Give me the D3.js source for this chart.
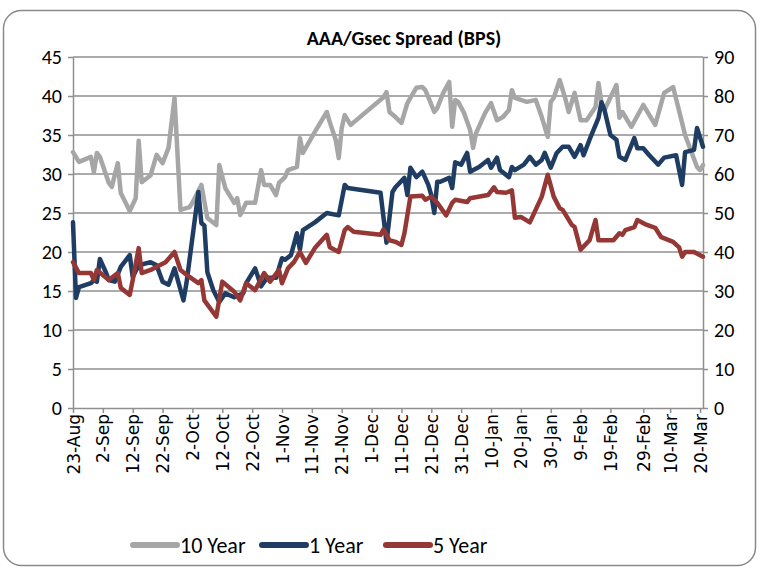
<!DOCTYPE html>
<html>
<head>
<meta charset="utf-8">
<script src="https://cdn.jsdelivr.net/npm/d3@7"></script>
<style>
  body { margin: 0; background: #fff; }
  svg { display: block; }
  .lbl { font-family: Carlito, "Liberation Sans Narrow", "Liberation Sans", sans-serif; }
</style>
</head>
<body>
<svg id="chart" width="763" height="571"></svg>
<script>
const tickLabels = ["23-Aug", "2-Sep", "12-Sep", "22-Sep", "2-Oct", "12-Oct", "22-Oct", "1-Nov", "11-Nov", "21-Nov",
  "1-Dec", "11-Dec", "21-Dec", "31-Dec", "10-Jan", "20-Jan", "30-Jan", "9-Feb", "19-Feb", "29-Feb", "10-Mar", "20-Mar"];

// 10 Year (right axis)
const tenYearDates = ["2011-08-23","2011-08-25","2011-08-29","2011-08-30","2011-08-31","2011-09-01","2011-09-04","2011-09-05",
  "2011-09-07","2011-09-08","2011-09-11","2011-09-13","2011-09-14","2011-09-15","2011-09-18","2011-09-20","2011-09-22",
  "2011-09-24","2011-09-26","2011-09-28","2011-10-01","2011-10-02","2011-10-05","2011-10-07","2011-10-10","2011-10-11",
  "2011-10-13","2011-10-16","2011-10-17","2011-10-18","2011-10-20","2011-10-23","2011-10-25","2011-10-26","2011-10-28",
  "2011-10-30","2011-10-31","2011-11-02","2011-11-03","2011-11-06","2011-11-07","2011-11-08","2011-11-12","2011-11-16",
  "2011-11-17","2011-11-19","2011-11-20","2011-11-21","2011-11-22","2011-11-24","2011-12-05","2011-12-06","2011-12-07",
  "2011-12-09","2011-12-11","2011-12-13","2011-12-14","2011-12-16","2011-12-18","2011-12-19","2011-12-20","2011-12-22",
  "2011-12-23","2011-12-25","2011-12-27","2011-12-28","2011-12-29","2011-12-30","2012-01-01","2012-01-03","2012-01-04",
  "2012-01-05","2012-01-08","2012-01-10","2012-01-12","2012-01-14","2012-01-16","2012-01-17","2012-01-18","2012-01-20",
  "2012-01-22","2012-01-25","2012-01-27","2012-01-29","2012-01-30","2012-01-31","2012-02-02","2012-02-04","2012-02-05",
  "2012-02-07","2012-02-09","2012-02-11","2012-02-14","2012-02-15","2012-02-16","2012-02-17","2012-02-21","2012-02-22",
  "2012-02-23","2012-02-26","2012-03-01","2012-03-05","2012-03-08","2012-03-11","2012-03-14","2012-03-15","2012-03-19",
  "2012-03-20","2012-03-21"];
const tenYear = [65.6,63.1,64.4,60.5,65.4,64.4,57.7,56.7,62.8,55.1,50.5,53.8,68.5,57.9,59.7,64.9,62.8,66.7,79.5,50.8,
  51.5,52.6,57.2,48.7,46.9,62.3,56.4,52.6,53.8,49.5,52.6,52.6,61.0,57.2,57.2,54.6,57.7,59.2,61.0,61.8,69.2,65.4,70.8,
  75.9,73.3,68.7,64.1,71.8,75.1,72.6,79.7,81.0,75.9,74.6,73.1,78.2,79.5,82.1,82.3,81.5,79.7,75.9,76.9,80.8,83.6,72.1,
  79.0,78.5,75.6,71.3,66.7,70.5,75.6,78.2,73.8,74.6,76.4,81.5,79.5,79.0,78.5,79.0,74.6,69.5,78.5,79.5,84.1,79.0,75.9,
  80.8,73.8,73.8,77.2,83.3,78.2,76.4,82.8,74.4,75.9,72.1,77.7,72.6,80.8,82.3,73.1,70.0,61.8,61.0,62.3];

// 1 Year (left axis)
const oneYearDates = ["2011-08-23","2011-08-24","2011-08-25","2011-08-29","2011-08-30","2011-08-31","2011-09-01","2011-09-03",
  "2011-09-04","2011-09-06","2011-09-08","2011-09-11","2011-09-12","2011-09-14","2011-09-18","2011-09-20","2011-09-22",
  "2011-09-24","2011-09-26","2011-09-29","2011-09-30","2011-10-04","2011-10-05","2011-10-06","2011-10-07","2011-10-09",
  "2011-10-11","2011-10-13","2011-10-16","2011-10-19","2011-10-20","2011-10-23","2011-10-25","2011-10-27","2011-10-30",
  "2011-11-01","2011-11-02","2011-11-04","2011-11-06","2011-11-07","2011-11-08","2011-11-12","2011-11-16","2011-11-20",
  "2011-11-22","2011-11-23","2011-12-04","2011-12-06","2011-12-08","2011-12-09","2011-12-12","2011-12-13","2011-12-14",
  "2011-12-16","2011-12-18","2011-12-20","2011-12-21","2011-12-22","2011-12-23","2011-12-24","2011-12-27","2011-12-28",
  "2011-12-29","2011-12-31","2012-01-02","2012-01-03","2012-01-06","2012-01-09","2012-01-10","2012-01-12","2012-01-13",
  "2012-01-16","2012-01-17","2012-01-18","2012-01-21","2012-01-23","2012-01-25","2012-01-27","2012-01-28","2012-01-30",
  "2012-02-01","2012-02-03","2012-02-05","2012-02-07","2012-02-09","2012-02-10","2012-02-12","2012-02-15","2012-02-16",
  "2012-02-17","2012-02-19","2012-02-21","2012-02-22","2012-02-24","2012-02-27","2012-02-28","2012-03-01","2012-03-03",
  "2012-03-06","2012-03-08","2012-03-12","2012-03-14","2012-03-15","2012-03-18","2012-03-19","2012-03-21"];
const oneYear = [23.8,14.1,15.5,16.0,16.4,16.2,19.1,17.4,16.4,16.2,18.1,19.6,16.8,18.3,18.7,18.3,16.2,15.8,17.9,13.8,
  16.0,27.7,23.7,23.4,17.4,15.1,13.6,14.7,14.2,14.7,16.0,17.9,15.6,16.7,16.7,19.2,19.0,19.6,22.4,20.3,22.8,23.8,25.0,
  24.7,28.6,28.2,27.6,21.2,27.7,28.3,29.5,27.3,30.8,29.6,30.3,28.6,27.3,25.0,29.0,29.0,29.5,28.2,31.5,31.2,32.7,30.3,
  30.9,31.8,30.8,32.1,30.5,29.6,30.9,30.5,31.2,32.2,31.2,31.8,32.7,30.8,32.7,33.5,33.5,32.2,33.7,32.4,34.4,37.2,39.2,
  38.2,35.0,34.4,32.2,31.8,34.6,33.3,33.3,32.4,31.2,32.1,32.4,28.6,32.8,33.1,35.9,33.5];

// 5 Year (left axis)
const fiveYearDates = ["2011-08-23","2011-08-25","2011-08-29","2011-08-30","2011-08-31","2011-09-04","2011-09-07","2011-09-08",
  "2011-09-11","2011-09-12","2011-09-14","2011-09-15","2011-09-18","2011-09-21","2011-09-23","2011-09-26","2011-09-28",
  "2011-10-01","2011-10-04","2011-10-05","2011-10-06","2011-10-10","2011-10-12","2011-10-16","2011-10-18","2011-10-20",
  "2011-10-23","2011-10-26","2011-10-28","2011-10-31","2011-11-01","2011-11-03","2011-11-05","2011-11-07","2011-11-09",
  "2011-11-12","2011-11-16","2011-11-17","2011-11-20","2011-11-22","2011-11-23","2011-11-25","2011-12-04","2011-12-05",
  "2011-12-07","2011-12-09","2011-12-11","2011-12-12","2011-12-14","2011-12-18","2011-12-19","2011-12-21","2011-12-23",
  "2011-12-26","2011-12-28","2011-12-29","2012-01-02","2012-01-03","2012-01-09","2012-01-11","2012-01-12","2012-01-15",
  "2012-01-17","2012-01-18","2012-01-20","2012-01-23","2012-01-27","2012-01-29","2012-01-31","2012-02-02","2012-02-03",
  "2012-02-06","2012-02-07","2012-02-09","2012-02-12","2012-02-14","2012-02-15","2012-02-20","2012-02-22","2012-02-23",
  "2012-02-24","2012-02-27","2012-02-28","2012-03-02","2012-03-05","2012-03-07","2012-03-11","2012-03-13","2012-03-14",
  "2012-03-15","2012-03-18","2012-03-21"];
const fiveYear = [18.7,17.3,17.3,16.4,17.7,16.4,17.3,15.4,14.5,16.4,20.5,17.3,17.7,18.3,18.7,20.0,17.7,16.8,16.0,16.4,
  13.8,11.7,16.2,14.9,13.8,16.0,15.1,17.3,16.2,17.7,16.0,17.9,18.7,20.0,18.6,20.5,22.2,20.6,20.0,22.8,23.2,22.6,22.2,
  22.9,21.5,21.3,20.9,22.4,27.1,27.2,26.7,27.1,26.3,24.7,26.3,26.7,26.4,26.9,27.3,28.3,27.7,27.6,27.9,24.4,24.5,23.8,
  27.1,29.9,27.1,25.6,25.4,23.5,23.2,20.3,21.5,24.1,21.5,21.5,22.4,22.2,22.8,23.2,24.1,23.5,23.1,21.9,21.3,20.6,19.4,
  20.0,20.0,19.4];

const leftTicks = d3.range(0, 46, 5);
const rightTicks = d3.range(0, 91, 10);

const svg = d3.select("#chart");
const plot = { left: 73, right: 703, top: 57, bottom: 408 };
const gridColor = "#8f8f8f";

const parse = d3.timeParse("%Y-%m-%d");
const parseTick = (s) => {
  const d = d3.timeParse("%d-%b")(s);
  d.setFullYear(d.getMonth() >= 7 ? 2011 : 2012);
  return d;
};
const tickDates = tickLabels.map(parseTick);

const x = d3.scaleTime()
  .domain([parse("2011-08-23"), parse("2012-03-21")])
  .range([plot.left, plot.right]);
const yL = d3.scaleLinear().domain([0, 45]).range([plot.bottom, plot.top]);
const yR = d3.scaleLinear().domain([0, 90]).range([plot.bottom, plot.top]);

// border
svg.append("rect")
  .attr("x", 3.5).attr("y", 10.5).attr("width", 752).attr("height", 555)
  .attr("rx", 18)
  .attr("fill", "#fff").attr("stroke", "#8a8a8a").attr("stroke-width", 1.5);

svg.append("text")
  .attr("class", "lbl")
  .attr("x", 404).attr("y", 45)
  .attr("text-anchor", "middle")
  .attr("font-size", 20).attr("font-weight", "bold")
  .text("AAA/Gsec Spread (BPS)");

// gridlines
svg.append("g")
  .selectAll("line")
  .data(leftTicks.slice(1))
  .join("line")
  .attr("x1", plot.left).attr("x2", plot.right)
  .attr("y1", (d) => yL(d)).attr("y2", (d) => yL(d))
  .attr("stroke", gridColor).attr("stroke-width", 1.5);

const styleAxis = (g) => {
  g.select(".domain").attr("stroke", gridColor).attr("stroke-width", 1.5);
  g.selectAll(".tick line").attr("stroke", gridColor).attr("stroke-width", 1.5);
  g.selectAll(".tick text").attr("fill", "#000");
};

svg.append("g")
  .attr("transform", `translate(${plot.left},0)`)
  .call(d3.axisLeft(yL).tickValues(leftTicks).tickSize(5).tickPadding(6).tickSizeOuter(0))
  .call(styleAxis)
  .call((g) => g.selectAll(".tick text").attr("class", "lbl").attr("font-size", 20));

svg.append("g")
  .attr("transform", `translate(${plot.right},0)`)
  .call(d3.axisRight(yR).tickValues(rightTicks).tickSize(5).tickPadding(6).tickSizeOuter(0))
  .call(styleAxis)
  .call((g) => g.selectAll(".tick text").attr("class", "lbl").attr("font-size", 20));

svg.append("g")
  .attr("transform", `translate(0,${plot.bottom})`)
  .call(d3.axisBottom(x).tickValues(tickDates).tickFormat((d, i) => tickLabels[i]).tickSize(5).tickSizeOuter(0))
  .call(styleAxis)
  .call((g) => g.selectAll(".tick text")
    .attr("font-family", "'DejaVu Sans', Verdana, sans-serif")
    .attr("font-size", 17)
    .attr("transform", "rotate(-90)")
    .attr("text-anchor", "end")
    .attr("x", -6).attr("y", 0).attr("dy", "0.36em"));

const series = [
  { name: "10 Year", dates: tenYearDates, values: tenYear, y: yR, color: "#a6a6a6" },
  { name: "1 Year", dates: oneYearDates, values: oneYear, y: yL, color: "#1f3d63" },
  { name: "5 Year", dates: fiveYearDates, values: fiveYear, y: yL, color: "#953735" }
];

series.forEach((s) => {
  const pts = s.dates.map((d, i) => [parse(d), s.values[i]]);
  const line = d3.line().x((d) => x(d[0])).y((d) => s.y(d[1]));
  svg.append("path")
    .datum(pts)
    .attr("d", line)
    .attr("fill", "none")
    .attr("stroke", s.color)
    .attr("stroke-width", 4.5)
    .attr("stroke-linejoin", "round")
    .attr("stroke-linecap", "round");
});

// legend
const legendX = [133, 262, 386];
const legend = svg.append("g")
  .selectAll("g")
  .data(series)
  .join("g")
  .attr("transform", (d, i) => `translate(${legendX[i]},545)`);
legend.append("line")
  .attr("x1", 0).attr("x2", 44)
  .attr("stroke", (d) => d.color).attr("stroke-width", 6).attr("stroke-linecap", "round");
legend.append("text")
  .attr("class", "lbl")
  .attr("x", 47).attr("y", 8)
  .attr("font-size", 22)
  .text((d) => d.name);
</script>
</body>
</html>
